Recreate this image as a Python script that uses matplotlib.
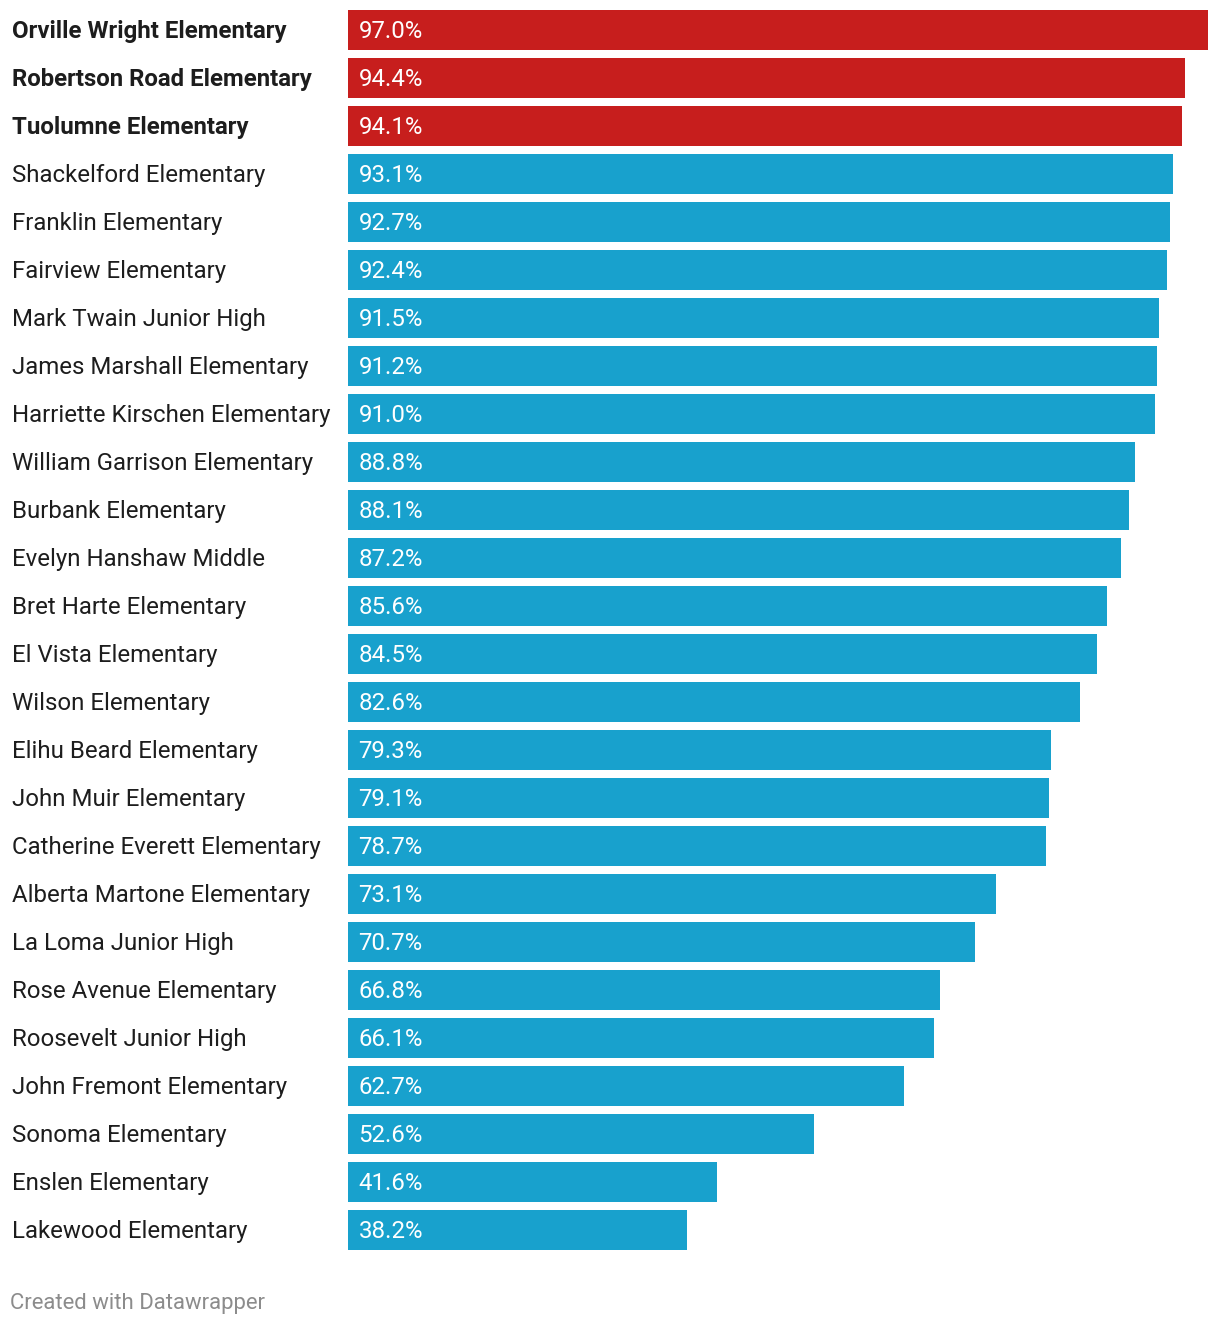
import matplotlib.pyplot as plt

plt.rcParams['font.family'] = ['Roboto', 'DejaVu Sans']

schools = [
    "Orville Wright Elementary", "Robertson Road Elementary", "Tuolumne Elementary",
    "Shackelford Elementary", "Franklin Elementary", "Fairview Elementary",
    "Mark Twain Junior High", "James Marshall Elementary", "Harriette Kirschen Elementary",
    "William Garrison Elementary", "Burbank Elementary", "Evelyn Hanshaw Middle",
    "Bret Harte Elementary", "El Vista Elementary", "Wilson Elementary",
    "Elihu Beard Elementary", "John Muir Elementary", "Catherine Everett Elementary",
    "Alberta Martone Elementary", "La Loma Junior High", "Rose Avenue Elementary",
    "Roosevelt Junior High", "John Fremont Elementary", "Sonoma Elementary",
    "Enslen Elementary", "Lakewood Elementary",
]
values = [97.0, 94.4, 94.1, 93.1, 92.7, 92.4, 91.5, 91.2, 91.0, 88.8, 88.1, 87.2,
          85.6, 84.5, 82.6, 79.3, 79.1, 78.7, 73.1, 70.7, 66.8, 66.1, 62.7, 52.6,
          41.6, 38.2]
highlight = [True, True, True] + [False] * 23

W, H = 1220, 1326
fig = plt.figure(figsize=(W / 100, H / 100), dpi=100)
# axes spans the bar area: x 348..1208 px, y 6..1254 px
ax = fig.add_axes([348 / W, 1 - 1254 / H, 860 / W, 1248 / H])
ax.set_xlim(0, 97.0)
n = len(values)
ax.set_ylim(n - 0.5, -0.5)

colors = ["#c71e1d" if h else "#18a1cd" for h in highlight]
ax.barh(range(n), values, height=40 / 48, color=colors)

label_x = -336 / 860  # axes fraction -> 12 px from figure edge
dy = 0.04
for i, (name, v, h) in enumerate(zip(schools, values, highlight)):
    ax.text(label_x, i + dy, name, transform=ax.get_yaxis_transform(), ha='left',
            va='center', fontsize=17.3, color='#1d1d1d',
            fontweight='bold' if h else 'normal')
    ax.text(10.5 / 860 * 97.0, i + dy, f"{v:.1f}%", ha='left', va='center',
            fontsize=17.3, color='white')

ax.axis('off')

fig.text(10 / W, 1 - 1303 / H, "Created with Datawrapper", ha='left', va='center',
         fontsize=15.9, color='#8c8c8c')

fig.savefig("out.png", dpi=100)
